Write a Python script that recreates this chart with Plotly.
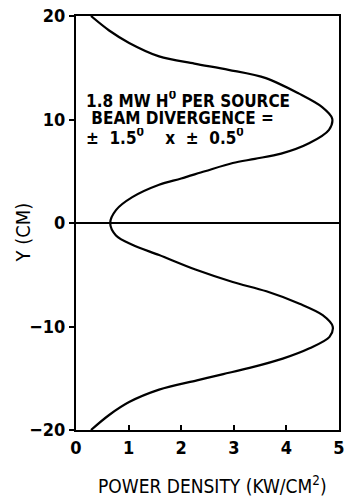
import plotly.graph_objects as go

# Data
y_cm = [20, 18.6, 17.4, 16.1, 15.4, 14.8, 14.0, 12.5, 11.2, 10.1, 9.0, 7.7, 6.7, 6.2,
        5.8, 5.0, 4.3, 3.7, 2.5, 1.25, 0, -1.2, -2.1, -3.1, -4.5, -5.7, -6.6, -7.8,
        -8.9, -10.0, -11.0, -12.1, -13.1, -14.0, -14.6, -15.2, -16.1, -17.3,
        -18.55, -20]
power_density = [0.285, 0.63, 1.01, 1.58, 2.25, 2.90, 3.61, 4.24, 4.68, 4.87, 4.81, 4.43,
                 3.90, 3.40, 2.98, 2.45, 2.00, 1.58, 1.07, 0.76, 0.65, 0.76, 1.07, 1.58,
                 2.27, 2.98, 3.62, 4.25, 4.69, 4.88, 4.82, 4.44, 3.93, 3.30, 2.80, 2.30,
                 1.58, 1.01, 0.63, 0.285]

x_ticks = [0, 1, 2, 3, 4, 5]
y_ticks = [-20, -10, 0, 10, 20]
y_tick_labels = ["\u221220", "\u221210", "0", "10", "20"]

SP = "&nbsp;"
note_lines = ["1.8 MW H<sup>0</sup> PER SOURCE",
              SP + "BEAM DIVERGENCE =",
              "\u00b1" + SP * 2 + "1.5<sup>0</sup>" + SP * 4 + "x" + SP * 2 + "\u00b1"
              + SP * 2 + "0.5<sup>0</sup>"]
note_y = [11.9, 10.2, 8.4]

FONT = "DejaVu Sans Condensed, Liberation Sans Narrow, sans-serif"

fig = go.Figure()
fig.add_trace(go.Scatter(x=power_density, y=y_cm, mode="lines",
                         line=dict(color="black", width=2.2, shape="spline", smoothing=0.9),
                         showlegend=False, hoverinfo="skip"))

for txt, yy in zip(note_lines, note_y):
    fig.add_annotation(x=0.15, y=yy, xref="x", yref="y", text=txt, showarrow=False,
                       xanchor="left", yanchor="middle", height=17,
                       font=dict(family=FONT, size=17, color="black", weight="bold"))

# axis titles as annotations for precise placement
fig.add_annotation(x=0.52, y=-0.133, xref="paper", yref="paper",
                   text="POWER DENSITY (KW/CM<sup>2</sup>)", showarrow=False,
                   xanchor="center", yanchor="middle",
                   font=dict(family=FONT, size=19, color="black"))
fig.add_annotation(x=-0.2, y=0.478, xref="paper", yref="paper",
                   text="Y (CM)", showarrow=False, textangle=-90,
                   xanchor="center", yanchor="middle",
                   font=dict(family=FONT, size=20, color="black"))

fig.update_layout(
    width=345, height=497,
    margin=dict(l=76, r=6, t=16, b=67),
    paper_bgcolor="white", plot_bgcolor="white",
    font=dict(family=FONT, color="black"),
    xaxis=dict(range=[0, 5], tickvals=x_ticks, ticks="inside", ticklen=5, tickwidth=1.5,
               tickcolor="black", showgrid=False, zeroline=False, automargin=False,
               showline=True, linecolor="black", linewidth=2, mirror=True,
               ticklabeloverflow="allow",
               tickfont=dict(family=FONT, size=18, weight="bold")),
    yaxis=dict(range=[-20, 20], tickvals=y_ticks, ticktext=y_tick_labels,
               ticks="outside", ticklen=5, tickwidth=1.5, tickcolor="black",
               showgrid=False, zeroline=True, zerolinecolor="black", zerolinewidth=1.5,
               showline=True, linecolor="black", linewidth=2, mirror=True, automargin=False,
               tickfont=dict(family=FONT, size=18, weight="bold")),
)

fig.write_html("out.html", config={"displayModeBar": False},
               post_script="document.body.style.margin='0';document.body.style.overflow='hidden';")
